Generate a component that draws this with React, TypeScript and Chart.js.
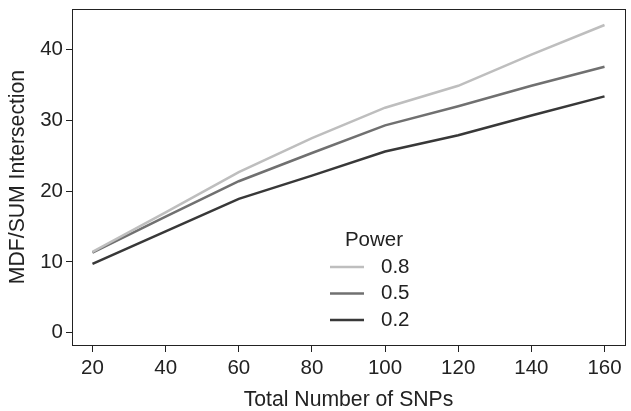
import React, { useEffect, useRef } from 'react';
import { Chart, registerables } from 'chart.js';

Chart.register(...registerables);

// ---- data ----
const snps = [20, 40, 60, 80, 100, 120, 140, 160];
const power08 = [11.4, 17.0, 22.7, 27.5, 31.8, 34.9, 39.3, 43.5];
const power05 = [11.3, 16.4, 21.4, 25.4, 29.3, 32.0, 34.9, 37.6];
const power02 = [9.7, 14.3, 18.9, 22.2, 25.6, 27.9, 30.7, 33.4];
const seriesLabels = ['0.8', '0.5', '0.2'];
const seriesColors = ['#BEBEBE', '#707070', '#383838'];
const xTicks = [20, 40, 60, 80, 100, 120, 140, 160];
const yTicks = [0, 10, 20, 30, 40];
const legendTitle = 'Power';
const xTitle = 'Total Number of SNPs';
const yTitle = 'MDF/SUM Intersection';

const FONT_FAMILY = '"Liberation Sans", Arial, Helvetica, sans-serif';
const FONT_SIZE = 20.5;
const TITLE_SIZE = 21.2;
const TEXT_COLOR = '#222222';

const boxPlugin = {
  id: 'rBox',
  afterDraw(chart: any) {
    const { ctx, chartArea } = chart;
    const l = Math.round(chartArea.left) + 0.5;
    const t = Math.round(chartArea.top) + 0.5;
    const r = Math.round(chartArea.right) + 0.5;
    const b = Math.round(chartArea.bottom) + 0.5;
    ctx.save();
    ctx.strokeStyle = TEXT_COLOR;
    ctx.lineWidth = 1;
    ctx.strokeRect(l, t, r - l, b - t);
    ctx.restore();
  },
};

const legendPlugin = {
  id: 'rLegend',
  afterDraw(chart: any) {
    const { ctx } = chart;
    const datasets = chart.data.datasets;
    ctx.save();
    ctx.font = `${FONT_SIZE}px ${FONT_FAMILY}`;
    ctx.fillStyle = TEXT_COLOR;
    ctx.textBaseline = 'middle';
    ctx.textAlign = 'center';
    ctx.fillText(legendTitle, 374, 240);
    const rowY = [267, 293.5, 320];
    datasets.forEach((ds: any, i: number) => {
      const y = rowY[i];
      ctx.strokeStyle = ds.borderColor;
      ctx.lineWidth = 2.5;
      ctx.beginPath();
      ctx.moveTo(330, y);
      ctx.lineTo(364, y);
      ctx.stroke();
      ctx.fillStyle = TEXT_COLOR;
      ctx.textAlign = 'left';
      ctx.fillText(ds.label, 381, y);
    });
    ctx.restore();
  },
};

export default function App() {
  const canvasRef = useRef<HTMLCanvasElement | null>(null);

  useEffect(() => {
    document.body.style.margin = '0';
    const canvas = canvasRef.current;
    if (!canvas) return;
    const series = [power08, power05, power02];
    const font = { family: FONT_FAMILY, size: FONT_SIZE, lineHeight: 1 };
    const titleFont = { family: FONT_FAMILY, size: TITLE_SIZE, lineHeight: 1 };
    const chart = new Chart(canvas, {
      type: 'line',
      data: {
        datasets: series.map((vals, i) => ({
          label: seriesLabels[i],
          data: snps.map((x, j) => ({ x, y: vals[j] })),
          borderColor: seriesColors[i],
          backgroundColor: seriesColors[i],
          borderWidth: 2.5,
          pointRadius: 0,
          tension: 0,
          fill: false,
        })),
      },
      options: {
        animation: false,
        responsive: false,
        devicePixelRatio: 1,
        layout: { padding: { left: 0, top: 9, right: 6, bottom: 0 } },
        plugins: {
          legend: { display: false },
          tooltip: { enabled: false },
        },
        scales: {
          x: {
            type: 'linear',
            min: 14.4,
            max: 165.6,
            afterBuildTicks: (scale: any) => {
              scale.ticks = xTicks.map((v) => ({ value: v }));
            },
            afterFit: (scale: any) => {
              scale.height = 66;
              scale.paddingLeft = 0;
              scale.paddingRight = 0;
            },
            grid: {
              display: true,
              drawOnChartArea: false,
              drawTicks: true,
              tickLength: 7,
              color: TEXT_COLOR,
              lineWidth: 1,
            },
            border: { display: false },
            ticks: {
              font,
              color: TEXT_COLOR,
              padding: 6.5,
              maxRotation: 0,
              autoSkip: false,
            },
            title: {
              display: true,
              text: xTitle,
              font: titleFont,
              color: TEXT_COLOR,
              padding: { top: 0, bottom: 0 },
            },
          },
          y: {
            type: 'linear',
            min: -1.76,
            max: 45.76,
            afterBuildTicks: (scale: any) => {
              scale.ticks = yTicks.map((v) => ({ value: v }));
            },
            afterFit: (scale: any) => {
              scale.width = 72;
              scale.paddingTop = 0;
              scale.paddingBottom = 0;
            },
            grid: {
              display: true,
              drawOnChartArea: false,
              drawTicks: true,
              tickLength: 6,
              color: TEXT_COLOR,
              lineWidth: 1,
            },
            border: { display: false },
            ticks: {
              font,
              color: TEXT_COLOR,
              padding: 3,
              autoSkip: false,
            },
            title: {
              display: true,
              text: yTitle,
              font: titleFont,
              color: TEXT_COLOR,
              padding: { top: 7.4, bottom: 0 },
            },
          },
        },
      },
      plugins: [boxPlugin, legendPlugin],
    });
    return () => chart.destroy();
  }, []);

  return (
    <div style={{ width: 631, height: 411 }}>
      <canvas ref={canvasRef} width={631} height={411} style={{ display: 'block' }} />
    </div>
  );
}
